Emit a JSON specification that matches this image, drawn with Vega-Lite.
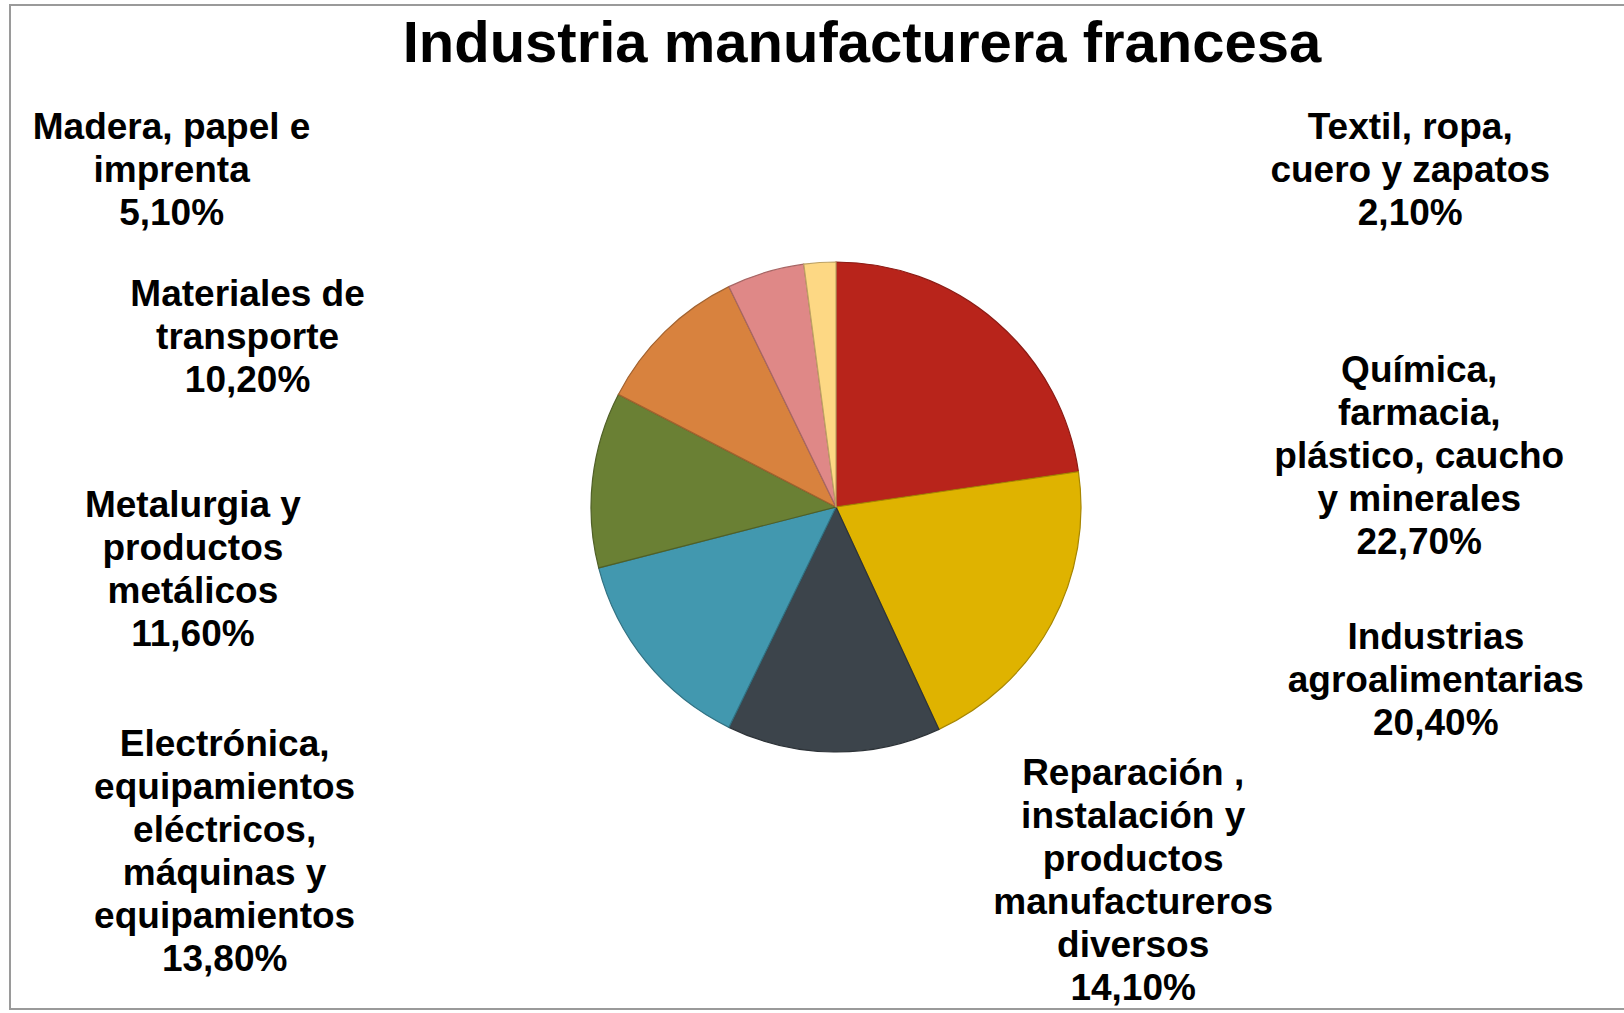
{
  "$schema": "https://vega.github.io/schema/vega-lite/v6.json",
  "width": 1652,
  "height": 1004,
  "autosize": {"type": "none"},
  "padding": {"left": 10, "top": 5, "right": 0, "bottom": 4},
  "background": "white",
  "view": {"stroke": "#9a9a9a", "strokeWidth": 2, "fill": "white"},
  "config": {
    "view": {"stroke": "#9a9a9a", "strokeWidth": 2},
    "font": "Liberation Sans"
  },
  "title": {
    "text": "Industria manufacturera francesa",
    "font": "Liberation Sans",
    "fontSize": 58,
    "fontWeight": "bold",
    "color": "#000000",
    "anchor": "middle",
    "baseline": "alphabetic",
    "dx": 26,
    "dy": 56,
    "offset": -59
  },
  "data": {
    "values": [
      {"sector": "Química,\nfarmacia,\nplástico, caucho\ny minerales", "share": 22.7},
      {"sector": "Industrias\nagroalimentarias", "share": 20.4},
      {"sector": "Reparación ,\ninstalación y\nproductos\nmanufactureros\ndiversos", "share": 14.1},
      {"sector": "Electrónica,\nequipamientos\neléctricos,\nmáquinas y\nequipamientos", "share": 13.8},
      {"sector": "Metalurgia y\nproductos\nmetálicos", "share": 11.6},
      {"sector": "Materiales de\ntransporte", "share": 10.2},
      {"sector": "Madera, papel e\nimprenta", "share": 5.1},
      {"sector": "Textil, ropa,\ncuero y zapatos", "share": 2.1}
    ]
  },
  "encoding": {
    "theta": {"field": "share", "type": "quantitative", "stack": true},
    "order": {"field": "share", "sort": "descending"}
  },
  "layer": [
    {
      "mark": {"type": "arc", "outerRadius": 245, "strokeWidth": 1.2},
      "encoding": {
        "color": {
          "field": "sector", "type": "nominal", "legend": null,
          "scale": {
            "domain": ["Química,\nfarmacia,\nplástico, caucho\ny minerales", "Industrias\nagroalimentarias", "Reparación ,\ninstalación y\nproductos\nmanufactureros\ndiversos", "Electrónica,\nequipamientos\neléctricos,\nmáquinas y\nequipamientos", "Metalurgia y\nproductos\nmetálicos", "Materiales de\ntransporte", "Madera, papel e\nimprenta", "Textil, ropa,\ncuero y zapatos"],
            "range": ["#B8241B", "#DFB300", "#3C444B", "#4298AF", "#6A8034", "#D8823E", "#DF8887", "#FDD884"]
          }
        },
        "stroke": {
          "field": "sector", "type": "nominal", "legend": null,
          "scale": {
            "domain": ["Química,\nfarmacia,\nplástico, caucho\ny minerales", "Industrias\nagroalimentarias", "Reparación ,\ninstalación y\nproductos\nmanufactureros\ndiversos", "Electrónica,\nequipamientos\neléctricos,\nmáquinas y\nequipamientos", "Metalurgia y\nproductos\nmetálicos", "Materiales de\ntransporte", "Madera, papel e\nimprenta", "Textil, ropa,\ncuero y zapatos"],
            "range": ["#8B1B14", "#A78600", "#2D3338", "#327283", "#506027", "#A2622F", "#A76665", "#BEA263"]
          }
        }
      }
    },
    {
      "mark": {"type": "text", "radius": 300, "dx": 387, "dy": 73, "align": "center", "baseline": "top", "lineBreak": "\n", "fontSize": 37, "fontWeight": "bold", "lineHeight": 43, "color": "#000000",
        "text": {"expr": "datum.share === 22.7 ? datum.sector + '\\n' + replace(format(datum.share, '.2f'), '.', ',') + '%' : ''"}},
      "encoding": {"detail": {"field": "sector", "type": "nominal"}}
    },
    {
      "mark": {"type": "text", "radius": 300, "dx": 336, "dy": -30, "align": "center", "baseline": "top", "lineBreak": "\n", "fontSize": 37, "fontWeight": "bold", "lineHeight": 43, "color": "#000000",
        "text": {"expr": "datum.share === 20.4 ? datum.sector + '\\n' + replace(format(datum.share, '.2f'), '.', ',') + '%' : ''"}},
      "encoding": {"detail": {"field": "sector", "type": "nominal"}}
    },
    {
      "mark": {"type": "text", "radius": 300, "dx": 300, "dy": -51, "align": "center", "baseline": "top", "lineBreak": "\n", "fontSize": 37, "fontWeight": "bold", "lineHeight": 43, "color": "#000000",
        "text": {"expr": "datum.share === 14.1 ? datum.sector + '\\n' + replace(format(datum.share, '.2f'), '.', ',') + '%' : ''"}},
      "encoding": {"detail": {"field": "sector", "type": "nominal"}}
    },
    {
      "mark": {"type": "text", "radius": 300, "dx": -379, "dy": 30, "align": "center", "baseline": "top", "lineBreak": "\n", "fontSize": 37, "fontWeight": "bold", "lineHeight": 43, "color": "#000000",
        "text": {"expr": "datum.share === 13.8 ? datum.sector + '\\n' + replace(format(datum.share, '.2f'), '.', ',') + '%' : ''"}},
      "encoding": {"detail": {"field": "sector", "type": "nominal"}}
    },
    {
      "mark": {"type": "text", "radius": 300, "dx": -345, "dy": 15, "align": "center", "baseline": "top", "lineBreak": "\n", "fontSize": 37, "fontWeight": "bold", "lineHeight": 43, "color": "#000000",
        "text": {"expr": "datum.share === 11.6 ? datum.sector + '\\n' + replace(format(datum.share, '.2f'), '.', ',') + '%' : ''"}},
      "encoding": {"detail": {"field": "sector", "type": "nominal"}}
    },
    {
      "mark": {"type": "text", "radius": 300, "dx": -379, "dy": -15, "align": "center", "baseline": "top", "lineBreak": "\n", "fontSize": 37, "fontWeight": "bold", "lineHeight": 43, "color": "#000000",
        "text": {"expr": "datum.share === 10.2 ? datum.sector + '\\n' + replace(format(datum.share, '.2f'), '.', ',') + '%' : ''"}},
      "encoding": {"detail": {"field": "sector", "type": "nominal"}}
    },
    {
      "mark": {"type": "text", "radius": 300, "dx": -578, "dy": -110, "align": "center", "baseline": "top", "lineBreak": "\n", "fontSize": 37, "fontWeight": "bold", "lineHeight": 43, "color": "#000000",
        "text": {"expr": "datum.share === 5.1 ? datum.sector + '\\n' + replace(format(datum.share, '.2f'), '.', ',') + '%' : ''"}},
      "encoding": {"detail": {"field": "sector", "type": "nominal"}}
    },
    {
      "mark": {"type": "text", "radius": 300, "dx": 594, "dy": -98, "align": "center", "baseline": "top", "lineBreak": "\n", "fontSize": 37, "fontWeight": "bold", "lineHeight": 43, "color": "#000000",
        "text": {"expr": "datum.share === 2.1 ? datum.sector + '\\n' + replace(format(datum.share, '.2f'), '.', ',') + '%' : ''"}},
      "encoding": {"detail": {"field": "sector", "type": "nominal"}}
    }
  ]
}
